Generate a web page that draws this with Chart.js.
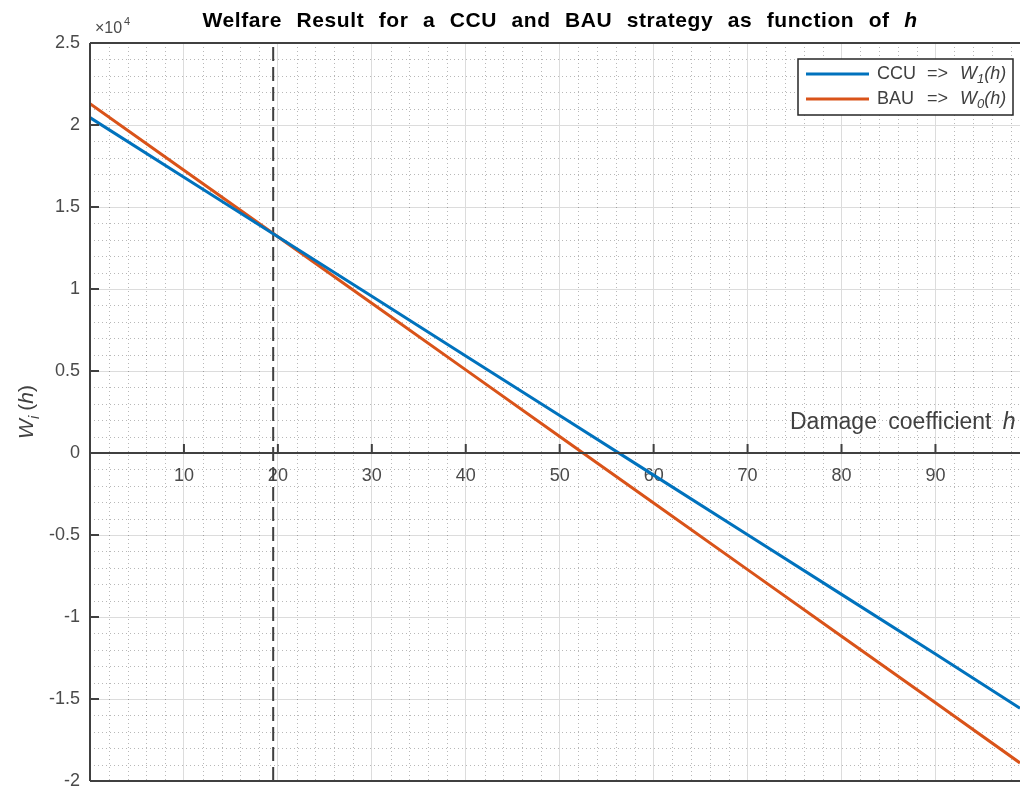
<!DOCTYPE html>
<html>
<head>
<meta charset="utf-8">
<script src="https://cdn.jsdelivr.net/npm/chart.js@4"></script>
<style>
  html, body { margin: 0; padding: 0; background: #fff; }
  canvas { display: block; }
</style>
</head>
<body>
<canvas id="welfareChart" width="1020" height="790"></canvas>
<script>
// values (welfare in units, y axis shown x10^4)
const hValues = [0, 10, 20, 30, 40, 50, 60, 70, 80, 90, 99];
const ccuValues = [20450, 16820, 13190, 9560, 5920, 2290, -1350, -4980, -8620, -12250, -15560];
const bauValues = [21300, 17240, 13190, 9130, 5070, 1010, -3050, -7110, -11170, -15230, -18900];
const crossoverH = [19.5, 19.5];
const crossoverW = [-20000, 25000];
const xTickValues = [0, 10, 20, 30, 40, 50, 60, 70, 80, 90];
const yTickValues = [-20000, -15000, -10000, -5000, 0, 5000, 10000, 15000, 20000, 25000];

const FONT = '"Liberation Sans", Arial, Helvetica, sans-serif';
const AXIS_COLOR = '#404040';
const TEXT_COLOR = '#4a4a4a';

function toPoints(xs, ys) {
    return xs.map((x, i) => ({ x: x, y: ys[i] }));
}

// draws text made of plain / italic / subscript pieces, returns end x
function drawRuns(ctx, runs, x, y, size) {
    runs.forEach(r => {
        const s = r.sub ? Math.round(size * 0.72) : size;
        ctx.font = (r.italic ? 'italic ' : '') + (r.bold ? 'bold ' : '') + s + 'px ' + FONT;
        ctx.fillText(r.text, x, y + (r.sub ? size * 0.28 : 0));
        x += ctx.measureText(r.text).width + (r.gap || 0);
    });
    return x;
}

const decorPlugin = {
    id: 'decor',
    beforeDatasetsDraw(chart) {
        const ctx = chart.ctx;
        const area = chart.chartArea;
        const xs = chart.scales.x;
        const ys = chart.scales.y;
        ctx.save();
        ctx.strokeStyle = 'rgba(0,0,0,0.28)';
        ctx.lineWidth = 1;
        ctx.setLineDash([1, 3]);
        for (let v = 0; v <= xs.max; v += 2) {
            if (v % 10 === 0) continue;
            const px = Math.round(xs.getPixelForValue(v)) + 0.5;
            ctx.beginPath();
            ctx.moveTo(px, area.top);
            ctx.lineTo(px, area.bottom);
            ctx.stroke();
        }
        for (let v = ys.min; v <= ys.max; v += 1000) {
            if (v % 5000 === 0) continue;
            const py = Math.round(ys.getPixelForValue(v)) + 0.5;
            ctx.beginPath();
            ctx.moveTo(area.left, py);
            ctx.lineTo(area.right, py);
            ctx.stroke();
        }
        ctx.restore();
    },
    afterDatasetsDraw(chart) {
        const ctx = chart.ctx;
        const area = chart.chartArea;
        const xs = chart.scales.x;
        const ys = chart.scales.y;
        const y0 = ys.getPixelForValue(0);
        ctx.save();

        // box lines
        ctx.strokeStyle = AXIS_COLOR;
        ctx.lineWidth = 2;
        ctx.beginPath();
        ctx.moveTo(area.left, area.top);
        ctx.lineTo(area.right, area.top);
        ctx.moveTo(area.left, area.bottom);
        ctx.lineTo(area.right, area.bottom);
        ctx.moveTo(area.left, area.top);
        ctx.lineTo(area.left, area.bottom);
        ctx.moveTo(area.left, y0);
        ctx.lineTo(area.right, y0);
        ctx.stroke();

        // inward tick marks
        ctx.beginPath();
        xTickValues.forEach(v => {
            if (v === 0) return;
            const px = xs.getPixelForValue(v);
            ctx.moveTo(px, y0);
            ctx.lineTo(px, y0 - 9);
        });
        yTickValues.forEach(v => {
            const py = ys.getPixelForValue(v);
            ctx.moveTo(area.left, py);
            ctx.lineTo(area.left + 9, py);
        });
        ctx.stroke();

        // title
        ctx.fillStyle = '#000';
        ctx.textBaseline = 'alphabetic';
        ctx.textAlign = 'left';
        ctx.wordSpacing = '8px';
        ctx.letterSpacing = '0.6px';
        ctx.font = 'bold 21px ' + FONT;
        const titleMain = 'Welfare Result for a CCU and BAU strategy as function of ';
        const wMain = ctx.measureText(titleMain).width;
        ctx.font = 'bold italic 21px ' + FONT;
        const wH = ctx.measureText('h').width;
        drawRuns(ctx, [{ text: titleMain, bold: true }, { text: 'h', bold: true, italic: true }], 560 - (wMain + wH) / 2, 27, 21);
        ctx.letterSpacing = '0px';

        // exponent label
        ctx.wordSpacing = '0px';
        ctx.fillStyle = TEXT_COLOR;
        ctx.font = '16px ' + FONT;
        ctx.fillText('\u00d710', 95, 33);
        ctx.font = '11px ' + FONT;
        ctx.fillText('4', 124, 25);

        // x axis label above the axis
        ctx.fillStyle = AXIS_COLOR;
        ctx.wordSpacing = '5px';
        drawRuns(ctx, [{ text: 'Damage coefficient ' }, { text: 'h', italic: true }], 790, 429, 23);
        ctx.wordSpacing = '0px';

        // y axis label, rotated
        ctx.save();
        ctx.translate(33, 412);
        ctx.rotate(-Math.PI / 2);
        const yRuns = [{ text: 'W', italic: true }, { text: 'i', italic: true, sub: true, gap: 5 }, { text: '(' }, { text: 'h', italic: true }, { text: ')' }];
        let wy = 0;
        yRuns.forEach(r => {
            const s = r.sub ? Math.round(21 * 0.72) : 21;
            ctx.font = (r.italic ? 'italic ' : '') + s + 'px ' + FONT;
            wy += ctx.measureText(r.text).width + (r.gap || 0);
        });
        drawRuns(ctx, yRuns, -wy / 2, 0, 21);
        ctx.restore();

        // legend
        const lx = 798, ly = 59, lw = 222, lh = 56;
        ctx.fillStyle = '#fff';
        ctx.fillRect(lx, ly, lw, lh);
        ctx.strokeStyle = '#262626';
        ctx.lineWidth = 1.5;
        ctx.strokeRect(lx, ly, lw - 7, lh);
        const rows = [
            { label: 'CCU', color: '#0072BD', sub: '1', y: 74 },
            { label: 'BAU', color: '#D95319', sub: '0', y: 99 }
        ];
        rows.forEach(r => {
            ctx.strokeStyle = r.color;
            ctx.lineWidth = 3;
            ctx.beginPath();
            ctx.moveTo(806, r.y);
            ctx.lineTo(869, r.y);
            ctx.stroke();
            ctx.fillStyle = AXIS_COLOR;
            ctx.textBaseline = 'middle';
            ctx.font = '18px ' + FONT;
            ctx.fillText(r.label, 877, r.y);
            ctx.fillText('=>', 927, r.y);
            drawRuns(ctx, [{ text: 'W', italic: true }, { text: r.sub, italic: true, sub: true }, { text: '(h)', italic: true }], 960, r.y, 18);
        });
        ctx.restore();
    }
};

new Chart(document.getElementById('welfareChart'), {
    type: 'line',
    data: {
        datasets: [
            {
                label: 'CCU',
                data: toPoints(hValues, ccuValues),
                borderColor: '#0072BD',
                borderWidth: 3,
                pointRadius: 0,
                tension: 0
            },
            {
                label: 'BAU',
                data: toPoints(hValues, bauValues),
                borderColor: '#D95319',
                borderWidth: 3,
                pointRadius: 0,
                tension: 0
            },
            {
                label: 'crossover',
                data: toPoints(crossoverH, crossoverW),
                borderColor: '#404040',
                borderWidth: 2,
                borderDash: [14, 6],
                pointRadius: 0
            }
        ]
    },
    options: {
        responsive: false,
        animation: false,
        devicePixelRatio: 1,
        layout: { padding: { top: 43, bottom: 9, left: 0, right: 0 } },
        plugins: {
            legend: { display: false },
            title: { display: false },
            tooltip: { enabled: false }
        },
        scales: {
            x: {
                type: 'linear',
                min: 0,
                max: 99,
                position: { y: 0 },
                afterBuildTicks: scale => {
                    scale.ticks = xTickValues.map(v => ({ value: v }));
                },
                ticks: {
                    padding: 12,
                    color: TEXT_COLOR,
                    font: { family: FONT, size: 18 },
                    maxRotation: 0,
                    callback: v => (v === 0 ? '' : v)
                },
                grid: { color: '#dcdcdc', lineWidth: 1, drawTicks: false },
                border: { display: false }
            },
            y: {
                type: 'linear',
                min: -20000,
                max: 25000,
                afterBuildTicks: scale => {
                    scale.ticks = yTickValues.map(v => ({ value: v }));
                },
                afterFit: scale => {
                    scale.width = 90;
                    scale.paddingTop = 0;
                    scale.paddingBottom = 0;
                },
                ticks: {
                    padding: 10,
                    color: TEXT_COLOR,
                    font: { family: FONT, size: 18 },
                    callback: v => String(v / 10000)
                },
                grid: { color: '#dcdcdc', lineWidth: 1, drawTicks: false },
                border: { display: false }
            }
        }
    },
    plugins: [decorPlugin]
});
</script>
</body>
</html>
